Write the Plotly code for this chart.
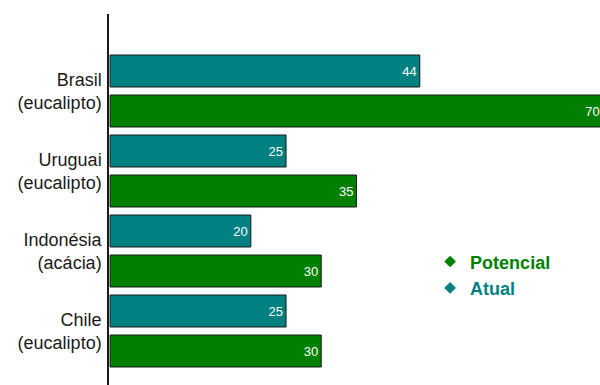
import plotly.graph_objects as go

categories = ["Brasil<br>(eucalipto)", "Uruguai<br>(eucalipto)", "Indonésia<br>(acácia)", "Chile<br>(eucalipto)"]
atual = [44, 25, 20, 25]
potencial = [70, 35, 30, 30]
series_names = ["Potencial", "Atual"]
teal = "#008080"
green = "#008000"

fig = go.Figure()
fig.add_trace(go.Bar(
    y=categories, x=atual, orientation="h", name="Atual",
    marker=dict(color=teal, line=dict(color="#1a1a1a", width=1)),
    width=0.4, offset=-0.45,
    text=atual, textposition="inside", insidetextanchor="end",
    textfont=dict(color="white", size=13, family="Liberation Sans, Arial"),
    showlegend=False,
))
fig.add_trace(go.Bar(
    y=categories, x=potencial, orientation="h", name="Potencial",
    marker=dict(color=green, line=dict(color="#1a1a1a", width=1)),
    width=0.4, offset=0.05,
    text=potencial, textposition="inside", insidetextanchor="end",
    textfont=dict(color="white", size=13, family="Liberation Sans, Arial"),
    showlegend=False,
))
# legend entries with diamond symbols
for nm, col in zip(series_names, [green, teal]):
    fig.add_trace(go.Scatter(
        x=[None], y=[None], mode="markers", name=f"<b><span style='color:{col}'>{nm}</span></b>",
        marker=dict(symbol="diamond", color=col, size=9),
    ))

fig.update_layout(
    width=600, height=385,
    margin=dict(l=109, r=0, t=14, b=0),
    plot_bgcolor="white", paper_bgcolor="white",
    barmode="overlay",
    font=dict(family="Liberation Sans, Arial", size=18, color="#1a1a1a"),
    uniformtext=dict(mode="show", minsize=8),
    legend=dict(x=0.654, y=0.382, xanchor="left", yanchor="top",
                font=dict(size=18), itemwidth=30, tracegroupgap=0,
                bgcolor="rgba(0,0,0,0)"),
)
fig.update_xaxes(range=[-0.15, 69.6], showgrid=False, zeroline=False, showticklabels=False,
                 showline=False, ticks="")
fig.update_yaxes(categoryorder="array", categoryarray=categories,
                 range=[3.675, -0.9625], showgrid=False, zeroline=False,
                 showline=True, linecolor="#1a1a1a", linewidth=1.5, ticks="",
                 tickfont=dict(size=18, color="#1a1a1a"), ticklabelstandoff=2)

fig.write_html("out.html")
